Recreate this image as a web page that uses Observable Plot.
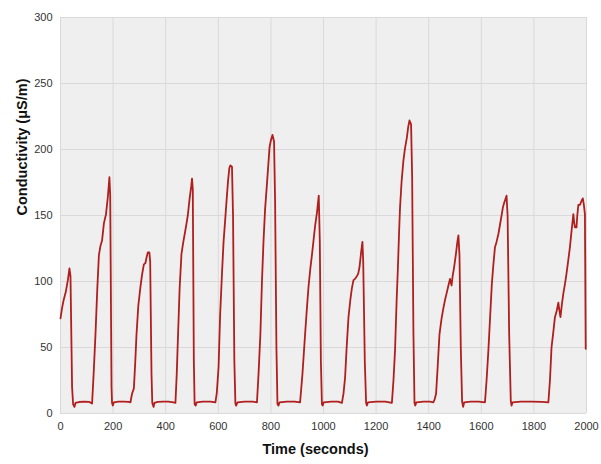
<!DOCTYPE html>
<html>
<head>
<meta charset="utf-8">
<script src="https://cdn.jsdelivr.net/npm/d3@7"></script>
<script src="https://cdn.jsdelivr.net/npm/@observablehq/plot@0.6"></script>
<style>
  html, body { margin: 0; padding: 0; background: #ffffff; }
  #chart { width: 601px; height: 464px; }
</style>
</head>
<body>
<div id="chart"></div>
<script>
const times = [0,6,12,20,28,34,38,44,48,53,57,70,90,110,120,126,133,140,146,152,158,165,173,180,186,189,194,196,199,203,220,240,260,266,272,279,284,289,296,304,310,317,323,327,332,338,341,346,349,354,357,370,390,410,430,437,442,447,453,460,467,475,480,484,491,497,500,503,507,510,514,518,540,570,589,594,601,607,614,620,627,632,637,642,646,652,656,661,665,668,673,700,730,747,753,760,766,772,778,785,790,795,800,806,812,816,821,825,829,833,860,890,911,920,930,937,943,950,956,962,968,975,982,986,990,994,997,1001,1030,1055,1070,1076,1082,1088,1095,1102,1108,1114,1120,1127,1132,1137,1143,1148,1151,1157,1162,1165,1169,1200,1235,1260,1266,1272,1278,1283,1287,1291,1297,1304,1310,1317,1322,1327,1333,1337,1342,1346,1349,1353,1380,1405,1418,1423,1428,1434,1441,1449,1456,1462,1468,1475,1481,1487,1491,1496,1503,1509,1513,1517,1522,1527,1531,1535,1560,1590,1614,1620,1627,1634,1640,1646,1652,1658,1665,1671,1678,1682,1686,1691,1696,1700,1706,1712,1715,1719,1750,1790,1830,1855,1861,1867,1874,1880,1887,1893,1897,1901,1906,1912,1918,1924,1930,1937,1943,1950,1953,1956,1962,1965,1969,1975,1981,1986,1990,1994,1997];
const conductivity = [72,80,86,92,101,110,104,20,7,5,8,8.7,9,8.8,7.5,30,60,95,120,127,131,144,151,164,179,165,20,8,6,8.5,9,9,8.8,8.5,15,19,38,60,82,96,105,113,114,118,122,122,115,30,8,5,8,8.8,9,9,8.5,8,30,60,95,121,130,139,145,150,163,172,178,170,40,7,6,8.5,9,9,8.5,15,35,75,106,130,149,163,176,186,188,187,150,40,7.5,6,8.5,9,9,8.5,30,60,100,131,155,174,188,202,207,211,206,160,50,7,6,8.5,9,9,8.5,30,60,80,96,110,120,131,142,152,165,130,40,7,6,8.5,9,9,8,15,27,50,73,86,95,101,102,104,106,111,122,130,115,40,8,6,8.5,9,9,8,25,48,85,111,135,156,176,192,201,209,217,222,219,180,60,8,6,8.5,9,9,8.5,11,15,35,60,72,80,86,91,97,102,97,104,110,120,130,135,120,50,9,5,8.5,9,9,8.5,25,48,75,98,113,126,130,136,143,151,156,159,162,165,150,60,10,6,8.5,9,9,8.8,8.5,25,50,62,73,78,84,78,73,82,91,98,106,115,126,138,151,145,141,141,150,158,158,161,163,158,151,49];
const xTicks = [0,200,400,600,800,1000,1200,1400,1600,1800,2000];
const yTicks = [0,50,100,150,200,250,300];
const xTitle = "Time (seconds)";
const yTitle = "Conductivity (μS/m)";

const data = times.map((t, i) => ({t, v: conductivity[i]}));

const chart = Plot.plot({
  width: 601,
  height: 464,
  marginLeft: 60,
  marginRight: 15,
  marginTop: 17,
  marginBottom: 51,
  style: {fontFamily: "'Liberation Sans', Arial, sans-serif", background: "#ffffff"},
  x: {domain: [0, 2000], ticks: xTicks},
  y: {domain: [0, 300], ticks: yTicks},
  marks: [
    Plot.frame({fill: "#efefef", stroke: null}),
    Plot.gridX(xTicks, {stroke: "#d9d9d9", strokeOpacity: 1}),
    Plot.gridY(yTicks, {stroke: "#d9d9d9", strokeOpacity: 1}),
    Plot.axisX(xTicks, {tickSize: 0, tickPadding: 9, fontSize: 11, fill: "#333", label: null, tickFormat: d => String(d)}),
    Plot.axisY(yTicks, {tickSize: 0, tickPadding: 8, fontSize: 11, fill: "#333", label: null, tickFormat: d => String(d)}),
    Plot.line(data, {x: "t", y: "v", stroke: "#b01e1e", strokeWidth: 1.8, strokeLinejoin: "round"}),
    Plot.text([xTitle], {frameAnchor: "bottom", dy: 40, dx: -8, fontSize: 14.5, fontWeight: "bold", fill: "#111"}),
    Plot.text([yTitle], {frameAnchor: "left", dx: -38, rotate: -90, fontSize: 14.5, fontWeight: "bold", fill: "#111"})
  ]
});
document.getElementById("chart").appendChild(chart);
</script>
</body>
</html>
